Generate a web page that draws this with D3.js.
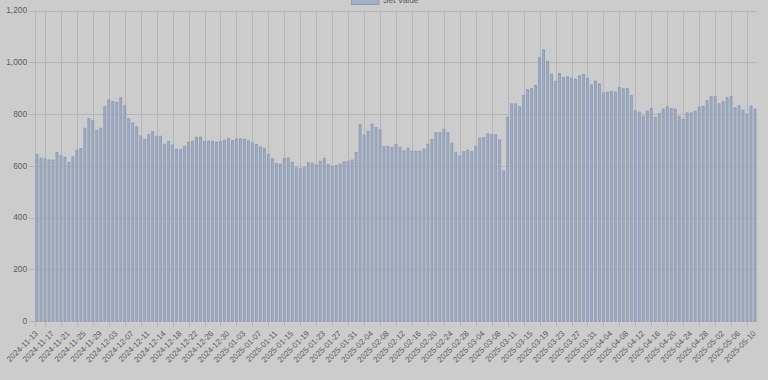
<!DOCTYPE html>
<html>
<head>
<meta charset="utf-8">
<script src="https://cdn.jsdelivr.net/npm/d3@7"></script>
<style>
  html, body { margin: 0; padding: 0; background: #cccccc; }
  svg { display: block; }
  text { font-family: "Liberation Sans", Arial, Helvetica, sans-serif; }
</style>
</head>
<body>
<svg id="chart" width="768" height="380"></svg>
<script>
const dates = [
  "2024-11-13","2024-11-14","2024-11-15","2024-11-16","2024-11-17","2024-11-18","2024-11-19","2024-11-20",
  "2024-11-21","2024-11-22","2024-11-23","2024-11-24","2024-11-25","2024-11-26","2024-11-27","2024-11-28",
  "2024-11-29","2024-11-30","2024-12-01","2024-12-02","2024-12-03","2024-12-04","2024-12-05","2024-12-06",
  "2024-12-07","2024-12-08","2024-12-09","2024-12-10","2024-12-11","2024-12-12","2024-12-12","2024-12-13",
  "2024-12-14","2024-12-15","2024-12-16","2024-12-17","2024-12-18","2024-12-19","2024-12-20","2024-12-21",
  "2024-12-22","2024-12-23","2024-12-24","2024-12-25","2024-12-26","2024-12-27","2024-12-28","2024-12-29",
  "2024-12-30","2024-12-31","2025-01-01","2025-01-02","2025-01-03","2025-01-04","2025-01-05","2025-01-06",
  "2025-01-07","2025-01-08","2025-01-09","2025-01-10","2025-01-11","2025-01-12","2025-01-13","2025-01-14",
  "2025-01-15","2025-01-16","2025-01-17","2025-01-18","2025-01-19","2025-01-20","2025-01-21","2025-01-22",
  "2025-01-23","2025-01-24","2025-01-25","2025-01-26","2025-01-27","2025-01-28","2025-01-29","2025-01-30",
  "2025-01-31","2025-02-01","2025-02-02","2025-02-03","2025-02-04","2025-02-05","2025-02-06","2025-02-07",
  "2025-02-08","2025-02-09","2025-02-10","2025-02-11","2025-02-12","2025-02-13","2025-02-14","2025-02-15",
  "2025-02-16","2025-02-17","2025-02-18","2025-02-19","2025-02-20","2025-02-21","2025-02-22","2025-02-23",
  "2025-02-24","2025-02-25","2025-02-26","2025-02-27","2025-02-28","2025-03-01","2025-03-02","2025-03-03",
  "2025-03-04","2025-03-05","2025-03-06","2025-03-07","2025-03-08","2025-03-09","2025-03-09","2025-03-10",
  "2025-03-11","2025-03-12","2025-03-13","2025-03-14","2025-03-15","2025-03-16","2025-03-17","2025-03-18",
  "2025-03-19","2025-03-20","2025-03-21","2025-03-22","2025-03-23","2025-03-24","2025-03-25","2025-03-26",
  "2025-03-27","2025-03-28","2025-03-29","2025-03-30","2025-03-31","2025-04-01","2025-04-02","2025-04-03",
  "2025-04-04","2025-04-05","2025-04-06","2025-04-07","2025-04-08","2025-04-09","2025-04-10","2025-04-11",
  "2025-04-12","2025-04-13","2025-04-14","2025-04-15","2025-04-16","2025-04-17","2025-04-18","2025-04-19",
  "2025-04-20","2025-04-21","2025-04-22","2025-04-23","2025-04-24","2025-04-25","2025-04-26","2025-04-27",
  "2025-04-28","2025-04-29","2025-04-30","2025-05-01","2025-05-02","2025-05-03","2025-05-04","2025-05-05",
  "2025-05-06","2025-05-07","2025-05-08","2025-05-09","2025-05-10"
];

const setValue = [
  646,631,628,624,624,653,640,635,615,636,662,668,747,784,777,739,
  747,830,856,850,847,865,834,784,767,753,717,704,722,734,716,716,
  685,696,682,666,664,677,693,696,712,712,696,696,696,693,695,700,
  708,699,705,706,704,698,690,684,675,669,646,630,610,608,630,632,
  615,594,590,594,614,612,605,619,631,606,599,603,608,617,619,624,
  653,762,720,735,763,749,741,676,677,673,684,673,660,670,658,658,
  658,666,685,703,730,730,743,730,689,654,639,656,662,656,677,709,
  711,725,722,722,702,582,789,841,841,830,873,896,900,913,1021,1050,
  1005,956,928,958,943,946,940,936,949,954,940,914,929,918,883,886,
  889,886,904,899,900,873,815,809,793,813,823,789,804,821,830,823,
  821,792,781,806,806,813,829,831,853,869,869,841,850,865,869,826,
  834,817,801,832,821
];

const yTicks = [0, 200, 400, 600, 800, 1000, 1200];
const seriesName = "Set Value";

(function () {
const svg = d3.select("#chart");
const pL = 35, pR = 757, pT = 10.5, pB = 321;

const x = d3.scaleBand().domain(d3.range(dates.length)).range([pL, pR]).paddingInner(0.28).paddingOuter(0.14);
const step = x.step();
const y = d3.scaleLinear().domain([0, 1200]).range([pB, pT]);

const gridColor = "#b6b6b6";
const textColor = "#5c5c5c";

// horizontal grid
svg.append("g").selectAll("line").data(yTicks).join("line")
  .attr("x1", pL - 6).attr("x2", pR)
  .attr("y1", d => Math.round(y(d)) + 0.5).attr("y2", d => Math.round(y(d)) + 0.5)
  .attr("stroke", gridColor).attr("stroke-width", 1);

// vertical grid (offset grid with autoskip)
const gridIdx = d3.range(2, dates.length, 4);
const cx = i => pL + (i + 0.5) * step;
svg.append("g").selectAll("line").data(gridIdx).join("line")
  .attr("x1", i => Math.round(cx(i)) + 0.5).attr("x2", i => Math.round(cx(i)) + 0.5)
  .attr("y1", pT).attr("y2", pB + 6)
  .attr("stroke", gridColor).attr("stroke-width", 1);

// axis line left
svg.append("line").attr("x1", pL + 0.5).attr("x2", pL + 0.5).attr("y1", pT).attr("y2", pB + 6)
  .attr("stroke", gridColor);

// bars
svg.append("g").selectAll("rect").data(setValue).join("rect")
  .attr("x", (d, i) => x(i) + 0.5)
  .attr("y", d => y(d) + 0.5)
  .attr("width", Math.max(0.5, x.bandwidth() - 1))
  .attr("height", d => pB - y(d) - 0.5)
  .attr("fill", "#a3b0c6")
  .attr("stroke", "#8e9cb6")
  .attr("stroke-width", 1);

// y labels
svg.append("g").selectAll("text").data(yTicks).join("text")
  .attr("x", pL - 8).attr("y", d => y(d))
  .attr("dy", "0.35em")
  .attr("text-anchor", "end")
  .attr("font-size", "8.3px")
  .attr("fill", textColor)
  .text(d => d3.format(",")(d));

// x labels
const labelIdx = d3.range(0, dates.length, 4);
svg.append("g").selectAll("text").data(labelIdx).join("text")
  .attr("transform", i => `translate(${cx(i) - 0.5},${pB + 11}) rotate(-45)`)
  .attr("text-anchor", "end")
  .attr("dy", "0.35em")
  .attr("font-size", "8px")
  .attr("fill", textColor)
  .text(i => dates[i]);

// legend (partially cut at top, as in the reference)
svg.append("rect").attr("x", 351.5).attr("y", -4).attr("width", 27.5).attr("height", 8.5)
  .attr("fill", "#a3b0c6").attr("stroke", "#8e9cb6").attr("stroke-width", 1);
svg.append("text").attr("x", 383).attr("y", 2.5)
  .attr("font-size", "8.3px").attr("fill", textColor).text(seriesName);
})();
</script>
</body>
</html>
